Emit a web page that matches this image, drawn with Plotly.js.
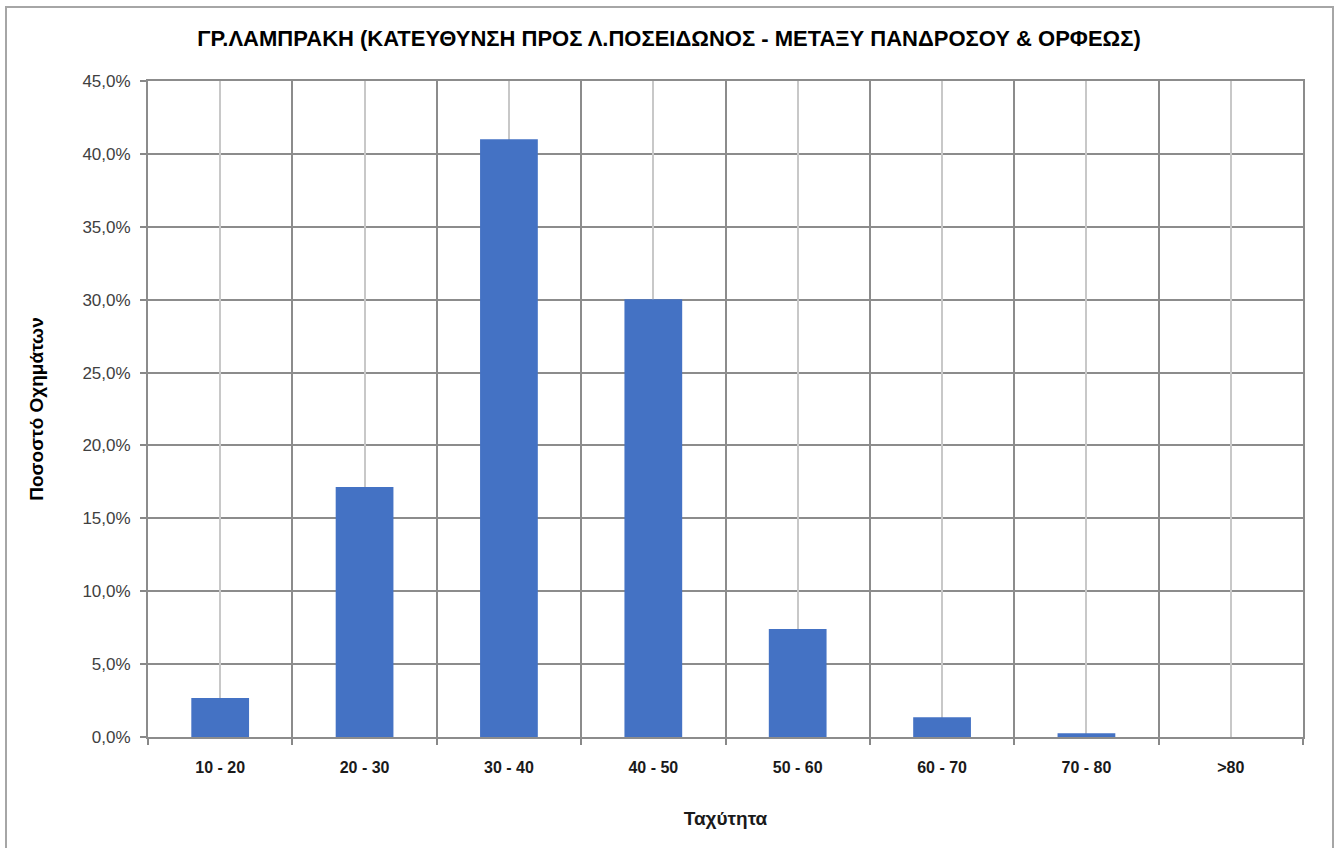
<!DOCTYPE html>
<html>
<head>
<meta charset="utf-8">
<script src="https://cdn.plot.ly/plotly-3.0.1.min.js"></script>
<style>
html,body{margin:0;padding:0;background:#fff;}
#chart{position:absolute;left:0;top:0;width:1335px;height:848px;}
#frame{position:absolute;left:5px;top:6px;width:1325px;height:850px;border:2px solid #a6a6a6;pointer-events:none;}
</style>
</head>
<body>
<div id="chart"></div>
<div id="frame"></div>
<script>
const categories = ["10 - 20","20 - 30","30 - 40","40 - 50","50 - 60","60 - 70","70 - 80",">80"];
const shares = [0.0267, 0.1715, 0.410, 0.3003, 0.0741, 0.0136, 0.0025, 0.0];
const chartTitle = "ΓΡ.ΛΑΜΠΡΑΚΗ (ΚΑΤΕΥΘΥΝΣΗ ΠΡΟΣ Λ.ΠΟΣΕΙΔΩΝΟΣ - ΜΕΤΑΞΥ ΠΑΝΔΡΟΣΟΥ & ΟΡΦΕΩΣ)";
const xTitle = "Ταχύτητα";
const yTitle = "Ποσοστό Οχημάτων";

const font = '"Liberation Sans", Arial, sans-serif';

const traces = [
  {
    type: 'bar', x: categories, y: shares, xaxis: 'x', yaxis: 'y',
    marker: {color: '#4472C4', line: {width: 0}},
    width: 0.4, hoverinfo: 'x+y'
  },
  {
    type: 'scatter', mode: 'markers', x: categories, y: shares.map(() => 0),
    xaxis: 'x2', yaxis: 'y', marker: {opacity: 0}, hoverinfo: 'skip', showlegend: false
  }
];

const layout = {
  width: 1335, height: 848,
  margin: {l: 148, r: 32, t: 81, b: 111, pad: 0},
  paper_bgcolor: '#ffffff', plot_bgcolor: '#ffffff',
  showlegend: false,
  separators: ',.',
  title: {
    text: '<b>' + chartTitle + '</b>',
    font: {family: font, size: 22, color: '#000000'},
    x: 669 / 1335, xanchor: 'center', y: 1 - 38 / 848, yanchor: 'middle'
  },
  xaxis: {
    type: 'category', categoryorder: 'array', categoryarray: categories,
    range: [-0.5, categories.length - 0.5],
    tickson: 'boundaries', ticks: 'outside', ticklen: 6, tickcolor: '#888888', tickwidth: 2,
    showgrid: true, gridcolor: '#8c8c8c', gridwidth: 2,
    showline: true, linecolor: '#8c8c8c', linewidth: 2, mirror: true,
    tickfont: {family: font, size: 16, color: '#1a1a1a', weight: 'bold'},
    ticklabelstandoff: 15,
    title: {text: '<b>' + xTitle + '</b>', font: {family: font, size: 19, color: '#1a1a1a'}, standoff: 36},
    fixedrange: true, zeroline: false
  },
  xaxis2: {
    type: 'category', categoryorder: 'array', categoryarray: categories,
    range: [-0.5, categories.length - 0.5],
    overlaying: 'x',
    showgrid: true, gridcolor: '#c8c8c8', gridwidth: 2,
    showticklabels: false, ticks: '', showline: false, zeroline: false, fixedrange: true
  },
  yaxis: {
    range: [0, 0.45], dtick: 0.05, tick0: 0, tickformat: '.1%',
    ticks: 'outside', ticklen: 6, tickcolor: '#888888', tickwidth: 2,
    showgrid: true, gridcolor: '#8c8c8c', gridwidth: 2,
    showline: true, linecolor: '#8c8c8c', linewidth: 2, mirror: true,
    zeroline: false,
    tickfont: {family: font, size: 17, color: '#404040'},
    ticklabelstandoff: 6,
    title: {text: '<b>' + yTitle + '</b>', font: {family: font, size: 19, color: '#000000'}, standoff: 34},
    fixedrange: true
  }
};

Plotly.newPlot('chart', traces, layout, {displayModeBar: false, staticPlot: true});
</script>
</body>
</html>
